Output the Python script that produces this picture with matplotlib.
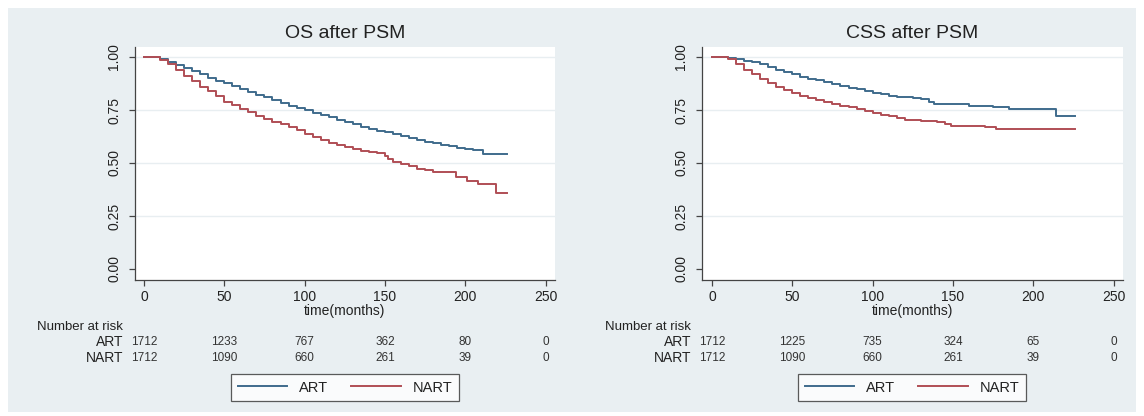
import numpy as np
import matplotlib
matplotlib.use("Agg")
import matplotlib.pyplot as plt
from matplotlib.patches import Rectangle
import matplotlib.transforms as mtransforms

plt.rcParams['font.family'] = ['Liberation Sans', 'DejaVu Sans']

# --- data (months, survival) ---
os_art_t = [0, 5, 10, 15, 20, 25, 30, 35, 40, 45, 50, 55, 60, 65, 70, 75, 80, 85, 90, 95,
            100, 105, 110, 115, 120, 125, 130, 135, 140, 145, 150, 155, 160, 165, 170, 175,
            180, 185, 190, 195, 200, 205, 211, 226]
os_art_s = [1.0, 1.0, 0.99, 0.975, 0.962, 0.95, 0.935, 0.918, 0.903, 0.888, 0.875, 0.862,
            0.85, 0.835, 0.822, 0.81, 0.795, 0.783, 0.77, 0.76, 0.75, 0.738, 0.726, 0.716,
            0.704, 0.693, 0.683, 0.672, 0.662, 0.652, 0.645, 0.636, 0.627, 0.618, 0.61,
            0.601, 0.594, 0.587, 0.579, 0.572, 0.566, 0.561, 0.542, 0.542]

os_nart_t = [0, 5, 10, 15, 20, 25, 30, 35, 40, 45, 50, 55, 60, 65, 70, 75, 80, 85, 90, 95,
             100, 105, 110, 115, 120, 125, 130, 135, 140, 145, 150, 152, 155, 160, 165, 170,
             175, 180, 194, 201, 208, 219, 226]
os_nart_s = [1.0, 1.0, 0.985, 0.965, 0.94, 0.912, 0.885, 0.86, 0.838, 0.818, 0.79, 0.772,
             0.756, 0.74, 0.722, 0.708, 0.695, 0.682, 0.67, 0.655, 0.638, 0.622, 0.608,
             0.596, 0.584, 0.574, 0.566, 0.558, 0.552, 0.546, 0.535, 0.52, 0.505, 0.495,
             0.485, 0.472, 0.465, 0.459, 0.432, 0.415, 0.40, 0.36, 0.36]

css_art_t = [0, 5, 10, 15, 20, 25, 30, 35, 40, 45, 50, 55, 60, 65, 70, 75, 80, 85, 90, 95,
             100, 105, 110, 115, 120, 125, 130, 135, 138, 160, 175, 185, 214, 226]
css_art_s = [1.0, 1.0, 0.995, 0.99, 0.982, 0.975, 0.965, 0.952, 0.94, 0.93, 0.92, 0.908,
             0.897, 0.89, 0.882, 0.873, 0.863, 0.855, 0.848, 0.84, 0.832, 0.825, 0.818,
             0.813, 0.81, 0.805, 0.80, 0.79, 0.778, 0.769, 0.765, 0.757, 0.722, 0.722]

css_nart_t = [0, 5, 10, 15, 20, 25, 30, 35, 40, 45, 50, 55, 60, 65, 70, 75, 80, 85, 90, 95,
              100, 105, 110, 115, 120, 130, 140, 145, 149, 170, 177, 226]
css_nart_s = [1.0, 1.0, 0.99, 0.965, 0.94, 0.918, 0.895, 0.875, 0.857, 0.843, 0.83, 0.818,
              0.808, 0.798, 0.789, 0.78, 0.77, 0.762, 0.753, 0.743, 0.734, 0.726, 0.72,
              0.712, 0.705, 0.70, 0.695, 0.685, 0.676, 0.67, 0.66, 0.66]

risk_times = [0, 50, 100, 150, 200, 250]
os_risk_art = [1712, 1233, 767, 362, 80, 0]
os_risk_nart = [1712, 1090, 660, 261, 39, 0]
css_risk_art = [1712, 1225, 735, 324, 65, 0]
css_risk_nart = [1712, 1090, 660, 261, 39, 0]

ART_COLOR = '#3f6b8c'
NART_COLOR = '#b04e55'
BG = '#e9eff2'
W, H = 1144, 416

fig = plt.figure(figsize=(W / 100, H / 100), dpi=100)
fig.patch.set_facecolor('white')
fig.patches.append(Rectangle((8 / W, 4 / H), 1128 / W, 404 / H, transform=fig.transFigure,
                             facecolor=BG, edgecolor='none', zorder=-10))


def px_axes(x0, y0, x1, y1):
    return fig.add_axes([x0 / W, 1 - y1 / H, (x1 - x0) / W, (y1 - y0) / H])


panels = [
    dict(box=(135, 47, 555, 280), x0px=144, title='OS after PSM', title_x=345,
         art=(os_art_t, os_art_s), nart=(os_nart_t, os_nart_s),
         risk=(os_risk_art, os_risk_nart), label_x=123, leg=(232, 374, 458, 401)),
    dict(box=(702, 47, 1123, 280), x0px=712, title='CSS after PSM', title_x=912,
         art=(css_art_t, css_art_s), nart=(css_nart_t, css_nart_s),
         risk=(css_risk_art, css_risk_nart), label_x=691, leg=(799, 374, 1025, 401)),
]

for p in panels:
    x0, y0, x1, y1 = p['box']
    ax = px_axes(x0, y0, x1, y1)
    ppm = 1.606
    ax.set_xlim((x0 - p['x0px']) / ppm, (x1 - p['x0px']) / ppm)
    ax.set_ylim(-(y1 - 269) / 212, 1 + (57 - y0) / 212)
    ax.set_facecolor('white')
    for s in ['top', 'right']:
        ax.spines[s].set_visible(False)
    for s in ['left', 'bottom']:
        ax.spines[s].set_color('#444444')
        ax.spines[s].set_linewidth(0.9)

    yt = [0, 0.25, 0.5, 0.75, 1.0]
    ax.set_yticks(yt)
    ax.set_yticklabels([f'{v:.2f}' for v in yt], rotation=90, va='center')
    ax.set_xticks([0, 50, 100, 150, 200, 250])
    ax.tick_params(axis='both', direction='out', length=4, width=0.9, color='#444444',
                   labelsize=10, labelcolor='#222222')
    ax.tick_params(axis='y', pad=6)
    ax.tick_params(axis='x', pad=3)
    for v in yt[1:]:
        ax.axhline(v, color='#e8eef1', lw=1.0, zorder=0)

    t, s = p['art']
    ax.plot(t, s, drawstyle='steps-post', color=ART_COLOR, lw=1.4, label='ART')
    t, s = p['nart']
    ax.plot(t, s, drawstyle='steps-post', color=NART_COLOR, lw=1.4, label='NART')

    ax.set_xlabel('time(months)', fontsize=10, color='#222222', labelpad=0)

    fig.text(p['title_x'] / W, 1 - 33 / H, p['title'], ha='center', va='center',
             fontsize=14, color='#222222')

    # number at risk table
    trans = mtransforms.blended_transform_factory(ax.transData, fig.transFigure)
    fig.text(p['label_x'] / W, 1 - 327 / H, 'Number at risk', ha='right', va='center',
             fontsize=9.5, color='#222222')
    fig.text(p['label_x'] / W, 1 - 342 / H, 'ART', ha='right', va='center',
             fontsize=10, color='#222222')
    fig.text(p['label_x'] / W, 1 - 358 / H, 'NART', ha='right', va='center',
             fontsize=10, color='#222222')
    ra, rn = p['risk']
    for tt, a, n in zip(risk_times, ra, rn):
        ax.text(tt, 1 - 342 / H, str(a), transform=trans, ha='center', va='center',
                fontsize=8.5, color='#333333', clip_on=False)
        ax.text(tt, 1 - 358 / H, str(n), transform=trans, ha='center', va='center',
                fontsize=8.5, color='#333333', clip_on=False)

    lx0, ly0, lx1, ly1 = p['leg']
    leg = fig.legend(handles=ax.get_lines()[-2:], labels=['ART', 'NART'], ncol=2,
                     loc='center', bbox_to_anchor=((lx0 + lx1) / 2 / W, 1 - (ly0 + ly1) / 2 / H),
                     fontsize=10.5, frameon=True, fancybox=False, handlelength=3.4,
                     columnspacing=1.6, handletextpad=0.8, borderpad=0.45)
    leg.get_frame().set_edgecolor('#333333')
    leg.get_frame().set_linewidth(0.9)
    for txt in leg.get_texts():
        txt.set_color('#222222')

fig.savefig('out.png', dpi=100, facecolor='white')
